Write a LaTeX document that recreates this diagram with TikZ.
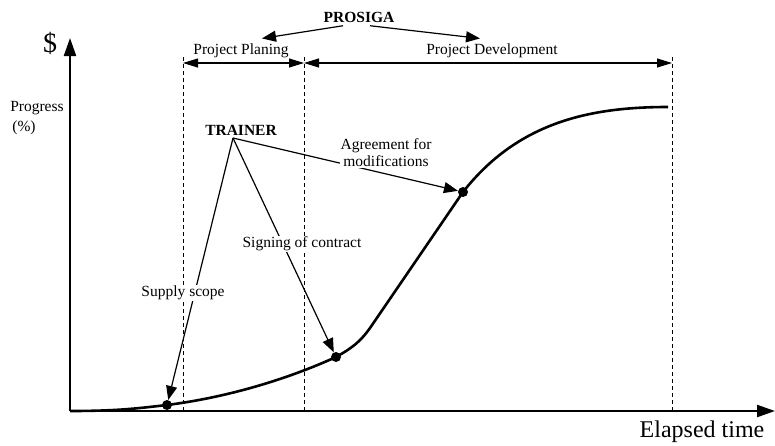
\documentclass[tikz,border=0pt]{standalone}
\usepackage{fontspec}
\setmainfont{Liberation Serif}
\usetikzlibrary{arrows.meta}
\tikzstyle{axis} = [draw, line width=2.2pt, -{Triangle[length=18pt,width=12pt]}]
\tikzstyle{line} = [draw, line width=1.2pt, -{Triangle[length=14pt,width=11pt]}]
\tikzstyle{span} = [draw, line width=1.1pt,
    {Triangle[length=15pt,width=9pt]}-{Triangle[length=15pt,width=9pt]}]
\tikzstyle{phase} = [draw, line width=1pt, dash pattern=on 4pt off 3pt]
\tikzstyle{curve} = [draw, line width=2.6pt]
\tikzstyle{dot} = [circle, fill=black, inner sep=0pt, minimum size=10pt]
\tikzstyle{tag} = [font=\fontsize{15.5}{17}\selectfont\bfseries]
\tikzstyle{note} = [fill=white, inner sep=1pt]

\begin{document}
\begin{tikzpicture}[x=1pt, y=-1pt, font=\fontsize{15.5}{17}\selectfont]
    \useasboundingbox (0,0) rectangle (775,445);
    % Place nodes
    \coordinate (origin) at (70,411);
    \coordinate (ytop) at (70,38);
    \coordinate (xend) at (775,411);
    \coordinate (plan top) at (183,57);
    \coordinate (plan bot) at (183,411);
    \coordinate (dev top) at (304,57);
    \coordinate (dev bot) at (304,411);
    \coordinate (end top) at (672,57);
    \coordinate (end bot) at (672,411);
    \coordinate (plan row) at (183,63);
    \coordinate (dev row) at (304,63);
    \coordinate (end row) at (672,63);
    \node (dollar) at (50,43) {\fontsize{28}{30}\selectfont\$};
    \node (progress) at (37,108) {Progress};
    \node (percent) at (24,128) {(\%)};
    \node [tag] (prosiga) at (359,17) {PROSIGA};
    \node (planing) at (241,51) {Project Planing};
    \node (devel) at (492,51) {Project Development};
    \node [tag] (trainer) at (241,130) {TRAINER};
    \coordinate (trainer tip) at (233,138);
    \node [dot] (supply) at (167,405) {};
    \node [dot] (contract) at (336,357) {};
    \node [dot] (agree) at (463,192) {};
    \node [anchor=base] (elapsed) at (702,437) {\fontsize{24}{26}\selectfont Elapsed time};
    % Draw edges
    \path [phase] (plan top) -- (plan bot);
    \path [phase] (dev top) -- (dev bot);
    \path [phase] (end top) -- (end bot);
    \path [span] (plan row) -- (dev row);
    \path [span] (dev row) -- (end row);
    \path [line] ([xshift=-16pt]prosiga.south) -- ([xshift=21pt,yshift=2pt]planing.north);
    \path [line] ([xshift=11pt]prosiga.south) -- ([xshift=-12pt,yshift=2pt]devel.north);
    \path [curve] (origin) .. controls (120,411) and (140,408) .. (supply.center)
        .. controls (230,397) and (290,378) .. (contract.center)
        .. controls (352,348) and (360,342) .. (370,328) -- (agree.center)
        .. controls (518,122) and (590,107) .. (668,107);
    \path [axis] (origin) -- (ytop);
    \path [axis] (origin) -- (xend);
    \path [line] (trainer tip) -- (supply);
    \path [line] (trainer tip) -- (contract);
    \path [line] (trainer tip) -- (agree);
    % Labels over the arrows
    \node [note] (supply lbl) at (183,293) {Supply scope};
    \node [note] (contract lbl) at (302,244) {Signing of contract};
    \node [note, align=center] (agree lbl) at (386,153) {Agreement for\\modifications};
\end{tikzpicture}
\end{document}
